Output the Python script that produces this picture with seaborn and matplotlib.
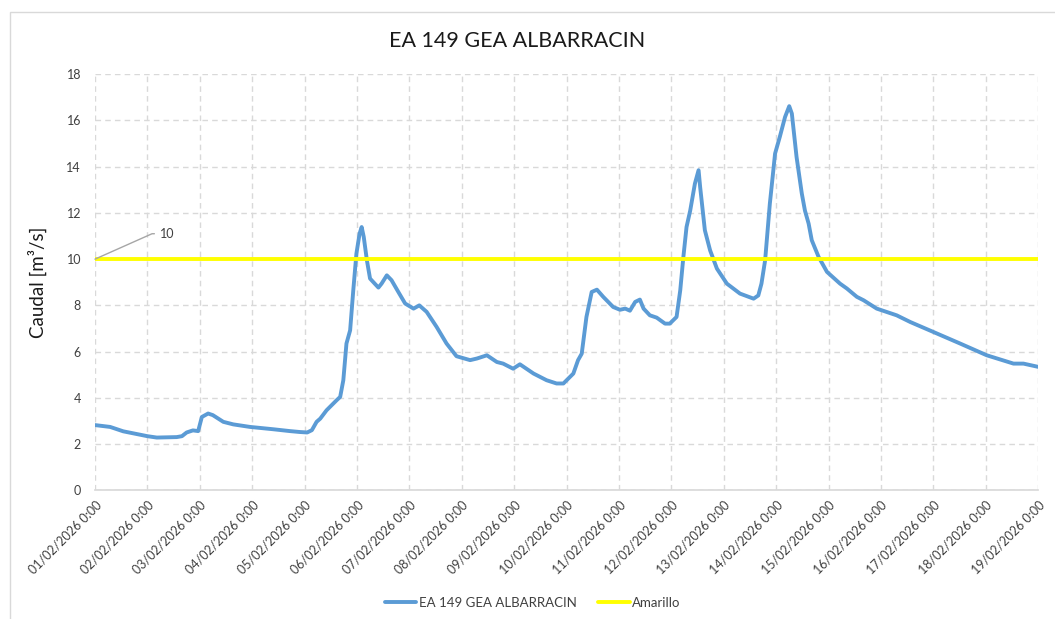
import seaborn as sns
import numpy as np
import pandas as pd
import matplotlib.pyplot as plt
import matplotlib.dates as mdates
from matplotlib.patches import Rectangle

sns.set_theme(style="white")
plt.rcParams["font.family"] = ["Lato", "DejaVu Sans"]

# days since 01/02/2026 0:00 and flow (m3/s)
days = [0, 0.29, 0.54, 1.0, 1.18, 1.56, 1.66, 1.75, 1.87, 1.97, 2.04, 2.16, 2.25,
        2.45, 2.64, 2.96, 3.4, 3.72, 3.91, 4.05, 4.14, 4.23, 4.3, 4.42, 4.61, 4.68,
        4.74, 4.8, 4.87, 4.93, 4.99, 5.05, 5.09, 5.13, 5.19, 5.25, 5.34, 5.41, 5.47,
        5.57, 5.66, 5.79, 5.92, 6.08, 6.19, 6.33, 6.52, 6.71, 6.9, 7.16, 7.29, 7.48,
        7.67, 7.79, 7.98, 8.11, 8.37, 8.62, 8.81, 8.94, 9.13, 9.22, 9.29, 9.38, 9.48,
        9.58, 9.7, 9.89, 10.02, 10.12, 10.21, 10.31, 10.4, 10.47, 10.59, 10.72, 10.88,
        10.97, 11.1, 11.17, 11.23, 11.29, 11.36, 11.45, 11.52, 11.55, 11.64, 11.74,
        11.87, 12.06, 12.31, 12.57, 12.66, 12.72, 12.79, 12.88, 12.98, 13.07, 13.17,
        13.25, 13.3, 13.39, 13.49, 13.55, 13.62, 13.68, 13.81, 13.97, 14.22, 14.35,
        14.54, 14.67, 14.92, 15.3, 15.56, 16.0, 16.51, 17.02, 17.53, 17.72, 18.0]
caudal = [2.82, 2.74, 2.55, 2.34, 2.28, 2.3, 2.34, 2.5, 2.59, 2.56, 3.17, 3.32, 3.25,
          2.96, 2.85, 2.74, 2.64, 2.56, 2.52, 2.5, 2.6, 2.96, 3.1, 3.46, 3.89, 4.04,
          4.76, 6.35, 6.92, 8.65, 10.24, 11.1, 11.39, 10.96, 9.95, 9.16, 8.94, 8.77, 8.94,
          9.3, 9.09, 8.58, 8.08, 7.86, 8.0, 7.72, 7.07, 6.35, 5.8, 5.63, 5.7, 5.84,
          5.55, 5.48, 5.26, 5.45, 5.05, 4.76, 4.62, 4.62, 5.05, 5.63, 5.91, 7.5, 8.58,
          8.68, 8.37, 7.93, 7.81, 7.86, 7.77, 8.15, 8.25, 7.86, 7.57, 7.47, 7.21,
          7.21, 7.5, 8.65, 10.1, 11.39, 12.1, 13.27, 13.85, 13.12, 11.25, 10.38,
          9.59, 8.94, 8.51, 8.29, 8.43, 8.94, 9.95, 12.4, 14.57, 15.29, 16.15,
          16.62, 16.3, 14.42, 12.84, 12.1, 11.54, 10.82, 10.1, 9.45, 8.94, 8.73,
          8.37, 8.22, 7.86, 7.57, 7.28, 6.85, 6.35, 5.84, 5.48, 5.48, 5.34]
umbral_amarillo = 10
start = pd.Timestamp("2026-02-01")
n_days = 18

df = pd.DataFrame({"fecha": start + pd.to_timedelta(days, unit="D"), "caudal": caudal})

fig, ax = plt.subplots(figsize=(10.55, 6.19), dpi=100)
fig.subplots_adjust(left=0.090, right=0.984, top=0.880, bottom=0.208)

sns.lineplot(data=df, x="fecha", y="caudal", ax=ax, color="#5B9BD5", lw=2.8,
             label="EA 149 GEA ALBARRACIN")
ax.axhline(umbral_amarillo, color="#FFFF00", lw=2.8, label="Amarillo", zorder=3)

ax.set_xlim(start, start + pd.Timedelta(days=n_days))
ax.set_ylim(0, 18)
ax.set_yticks(np.arange(0, 19, 2))
ax.xaxis.set_major_locator(mdates.DayLocator())
ax.xaxis.set_major_formatter(mdates.DateFormatter("%d/%m/%Y %-H:%M"))
ax.grid(True, color="#D9D9D9", linestyle=(0, (4, 3)), lw=1)
for s in ["left", "top", "right"]:
    ax.spines[s].set_visible(False)
ax.spines["bottom"].set_color("#D9D9D9")
ax.tick_params(axis="both", length=0, colors="#404040", labelsize=9)
plt.setp(ax.get_xticklabels(), rotation=45, ha="right", rotation_mode="anchor")
ax.tick_params(axis="x", pad=6)
ax.tick_params(axis="y", pad=10)

ax.set_xlabel("")
ax.set_ylabel("Caudal [m³/s]", fontsize=13.5, color="#1a1a1a", labelpad=14)
fig.text(0.49, 0.933, "EA 149 GEA ALBARRACIN", ha="center", va="center",
         fontsize=15.5, color="#1a1a1a")

ax.annotate("10", xy=(start, umbral_amarillo),
            xytext=(start + pd.Timedelta(days=1.25), 11.1), fontsize=9, color="#404040",
            va="center",
            arrowprops=dict(arrowstyle="-", color="#A6A6A6", lw=1,
                            connectionstyle="angle,angleA=0,angleB=24,rad=0",
                            shrinkA=2, shrinkB=0))

ax.legend_.remove()
handles, labels = ax.get_legend_handles_labels()
fig.legend(handles, labels, loc="center", bbox_to_anchor=(0.505, 0.026), ncol=2,
           frameon=False, fontsize=9.5, handlelength=2.4, handletextpad=0.2,
           columnspacing=1.6, labelcolor="#404040")

fig.add_artist(Rectangle((0.0095, -0.01), 1.0, 0.991, transform=fig.transFigure,
                         fill=False, edgecolor="#D9D9D9", lw=1))

fig.savefig("out.png", dpi=100)
